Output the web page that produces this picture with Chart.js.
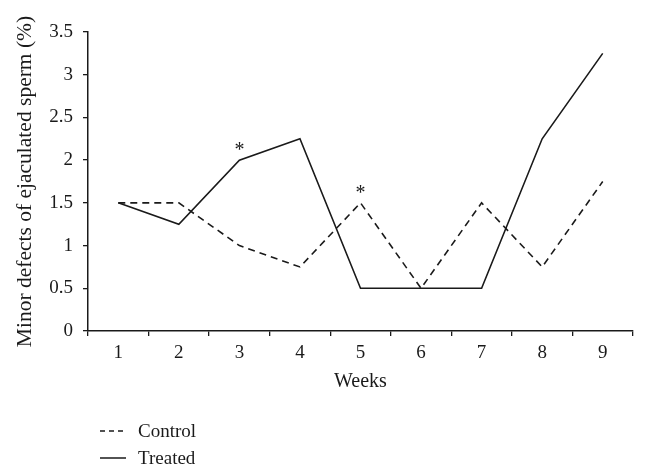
<!DOCTYPE html>
<html>
<head>
<meta charset="utf-8">
<script src="https://cdn.jsdelivr.net/npm/chart.js@4/dist/chart.umd.min.js"></script>
<style>
html,body{margin:0;padding:0;background:#fff;}
#wrap{width:648px;height:476px;position:relative;}
</style>
</head>
<body>
<div id="wrap"><canvas id="c" width="648" height="476"></canvas></div>
<script>
const weeks = ["1","2","3","4","5","6","7","8","9"];
const controlValues = [1.5, 1.5, 1.0, 0.75, 1.5, 0.5, 1.5, 0.75, 1.75];
const treatedValues = [1.5, 1.25, 2.0, 2.25, 0.5, 0.5, 0.5, 2.25, 3.25];
const treatedMarks = ["", "", "*", "", "", "", "", "", ""];
const controlMarks = ["", "", "", "", "*", "", "", "", ""];
const yTitle = "Minor defects of ejaculated sperm (%)";
const xTitle = "Weeks";

const FONT = "'Liberation Serif', 'DejaVu Serif', serif";
const INK = "#1a1a1a";

const marksPlugin = {
  id: 'marks',
  afterDatasetsDraw(chart) {
    const ctx = chart.ctx;
    const xs = chart.scales.x, ys = chart.scales.y;
    ctx.save();
    ctx.fillStyle = INK;
    ctx.font = "20px " + FONT;
    ctx.textAlign = "center";
    ctx.textBaseline = "middle";
    const draw = (marks, vals) => {
      marks.forEach((m, i) => {
        if (!m) return;
        const x = xs.getPixelForValue(i);
        const y = ys.getPixelForValue(vals[i]);
        ctx.fillText(m, x, y - 9);
      });
    };
    draw(treatedMarks, treatedValues);
    draw(controlMarks, controlValues);
    ctx.restore();
  }
};

const legendPlugin = {
  id: 'customLegend',
  afterDraw(chart) {
    const ctx = chart.ctx;
    ctx.save();
    ctx.beginPath();
    ctx.rect(0, 0, 648, 466);
    ctx.clip();
    ctx.strokeStyle = INK;
    ctx.fillStyle = INK;
    ctx.lineWidth = 1.5;
    const items = chart.data.datasets.map(d => ({label: d.label, dash: d.borderDash || []}));
    const ys = [431, 458];
    items.forEach((it, k) => {
      const y = ys[k];
      ctx.setLineDash(it.dash.length ? [5, 4] : []);
      ctx.beginPath();
      ctx.moveTo(100, y);
      ctx.lineTo(126, y);
      ctx.stroke();
      ctx.setLineDash([]);
      ctx.font = "19px " + FONT;
      ctx.textAlign = "left";
      ctx.textBaseline = "middle";
      ctx.fillText(it.label, 138, y + 1);
    });
    ctx.restore();
  }
};

new Chart(document.getElementById('c'), {
  type: 'line',
  data: {
    labels: weeks,
    datasets: [
      {label: "Control", data: controlValues, borderColor: INK, borderWidth: 1.6, borderDash: [7, 5], pointRadius: 0, fill: false, tension: 0},
      {label: "Treated", data: treatedValues, borderColor: INK, borderWidth: 1.6, pointRadius: 0, fill: false, tension: 0}
    ]
  },
  options: {
    responsive: false,
    animation: false,
    devicePixelRatio: 1,
    layout: {padding: {top: 32, right: 15, bottom: 0, left: 0}},
    plugins: {legend: {display: false}, tooltip: {enabled: false}},
    scales: {
      x: {
        type: 'category',
        offset: true,
        afterFit(s) { s.height = 145; },
        grid: {display: true, drawOnChartArea: false, drawTicks: true, tickLength: 5, offset: true, color: INK, lineWidth: 1.3},
        border: {display: true, color: INK, width: 1.5},
        ticks: {color: INK, font: {family: FONT, size: 19}, padding: 6, maxRotation: 0},
        title: {display: true, text: xTitle, color: INK, font: {family: FONT, size: 20}, padding: {top: 0, bottom: 82}}
      },
      y: {
        min: 0, max: 3.5,
        afterFit(s) { s.width = 88; },
        grid: {display: true, drawOnChartArea: false, drawTicks: true, tickLength: 5, color: INK, lineWidth: 1.3},
        border: {display: true, color: INK, width: 1.5},
        ticks: {stepSize: 0.5, color: INK, font: {family: FONT, size: 19}, padding: 10, callback: v => String(v)},
        title: {display: true, text: yTitle, color: INK, font: {family: FONT, size: 21.5}, padding: {top: 12, bottom: 0}}
      }
    }
  },
  plugins: [marksPlugin, legendPlugin]
});
</script>
</body>
</html>
